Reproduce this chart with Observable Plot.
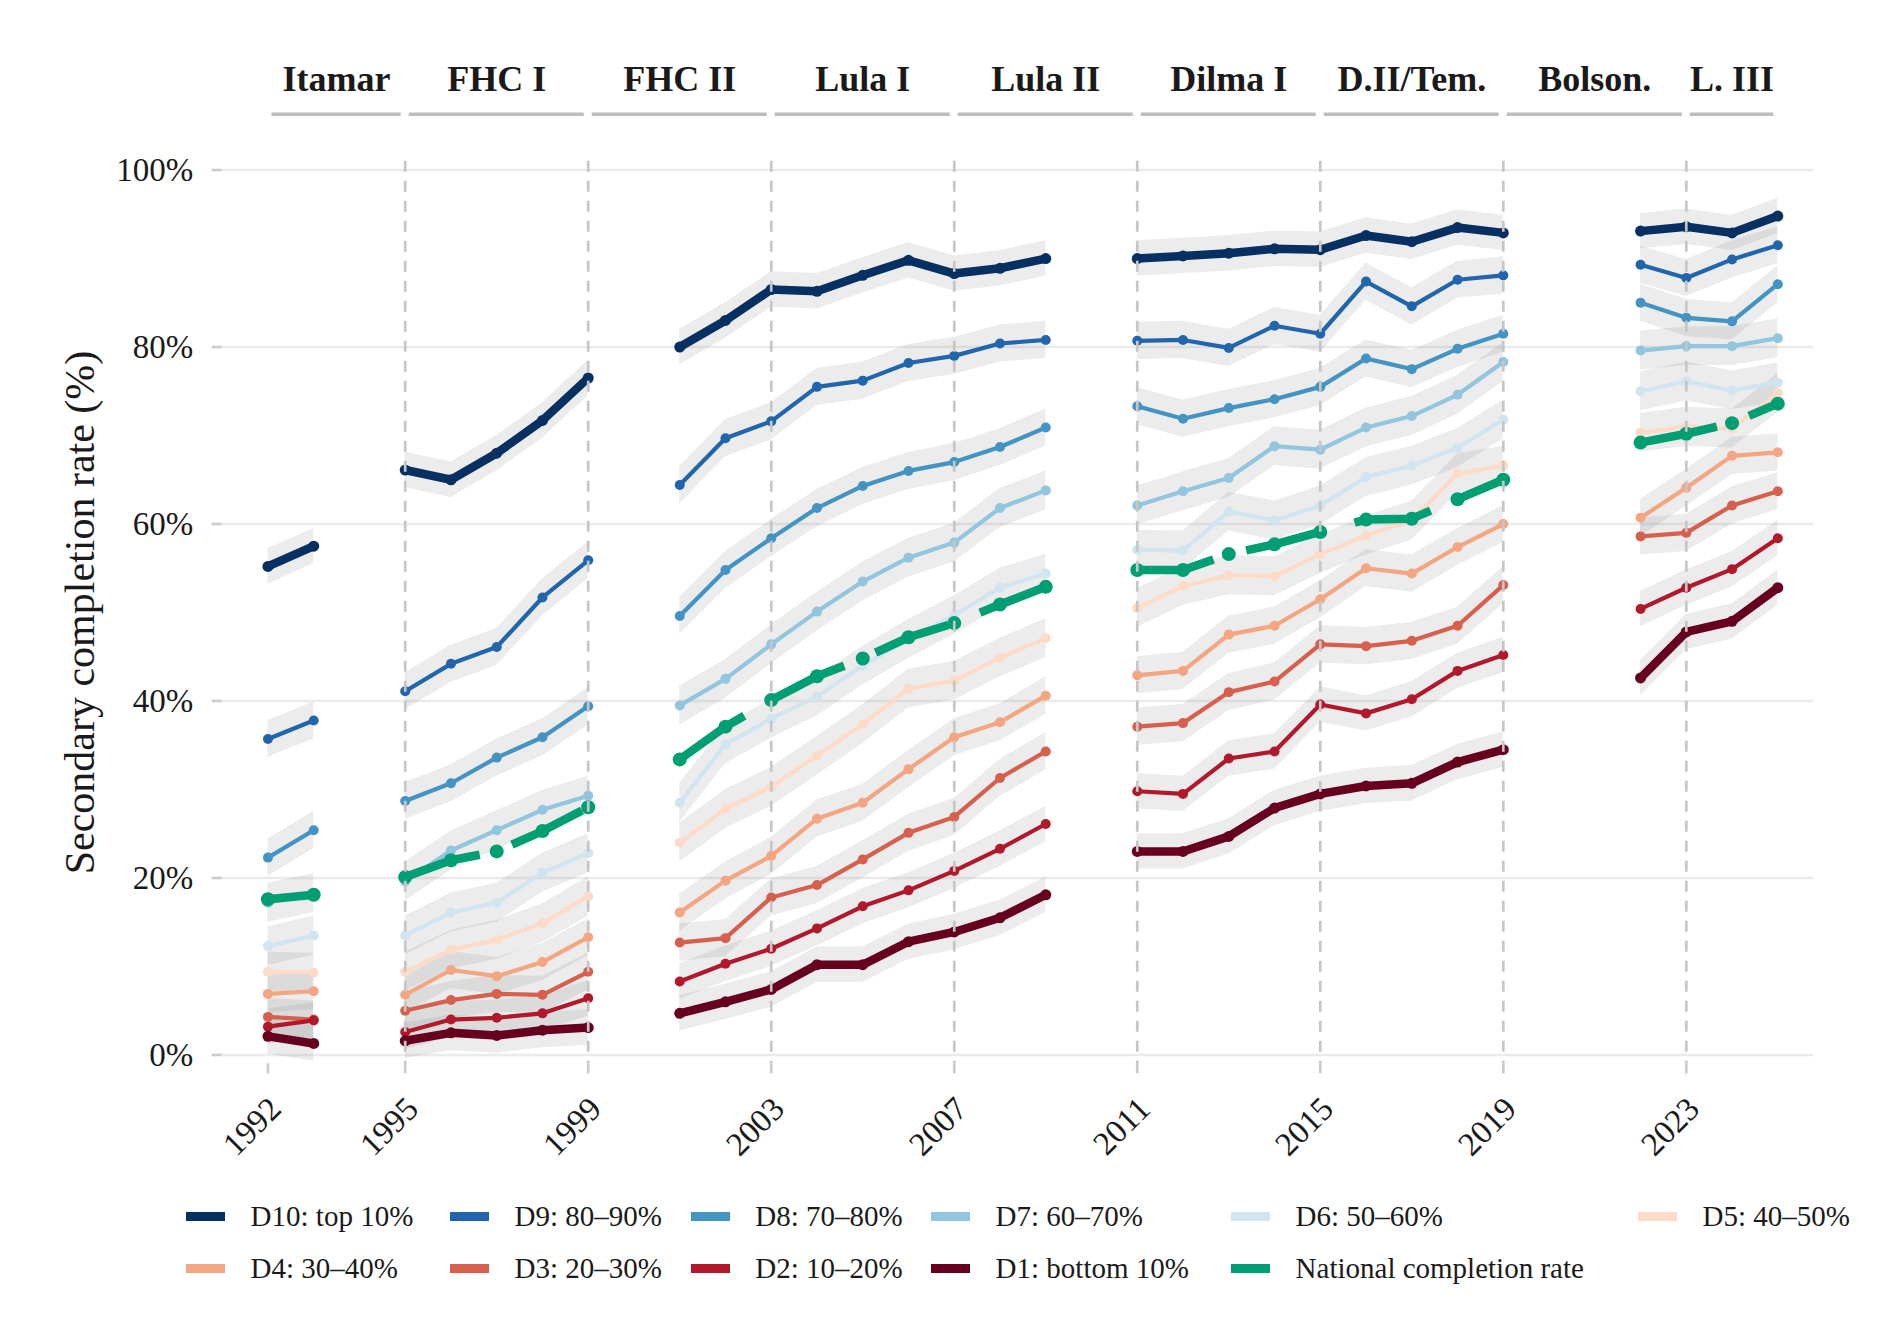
<!DOCTYPE html>
<html>
<head>
<meta charset="utf-8">
<script src="https://cdn.jsdelivr.net/npm/d3@7"></script>
<script src="https://cdn.jsdelivr.net/npm/@observablehq/plot@0.6"></script>
<style>
  html, body { margin: 0; padding: 0; background: #ffffff; }
  body { font-family: "Liberation Serif", "DejaVu Serif", serif; color: #1a1a1a; }
  #chart { width: 1880px; }
  #legend { display: grid; grid-template-columns: 264px 240.6px 240.4px 300px 407px 220px; margin-left: 186px; padding-top: 15px; }
  .item { display: flex; align-items: center; height: 52px; white-space: nowrap; }
  .key { width: 39px; height: 9px; margin-right: 25.6px; flex: none; }
  .lab { font-size: 29px; line-height: 1; }
</style>
</head>
<body>
<div id="chart"></div>
<script>
// ---------------- data ----------------
const years = [1992, 1993, 1994, 1995, 1996, 1997, 1998, 1999, 2000, 2001, 2002, 2003, 2004, 2005, 2006, 2007, 2008, 2009, 2010, 2011, 2012, 2013, 2014, 2015, 2016, 2017, 2018, 2019, 2020, 2021, 2022, 2023, 2024, 2025];

const d10 = [55.2, 57.5, null, 66.1, 65.0, 68.0, 71.7, 76.5, null, 80.0, 83.0, 86.5, 86.3, 88.1, 89.8, 88.3, 88.9, 90.0, null, 90.0, 90.3, 90.6, 91.1, 91.0, 92.6, 91.9, 93.5, 92.9, null, null, 93.1, 93.6, 92.9, 94.8];
const d9  = [35.7, 37.8, null, 41.1, 44.2, 46.1, 51.7, 55.9, null, 64.4, 69.7, 71.6, 75.5, 76.2, 78.2, 79.0, 80.4, 80.8, null, 80.7, 80.8, 79.9, 82.4, 81.5, 87.4, 84.6, 87.6, 88.1, null, null, 89.3, 87.8, 89.9, 91.5];
const d8  = [22.3, 25.4, null, 28.7, 30.7, 33.6, 35.9, 39.4, null, 49.6, 54.8, 58.4, 61.8, 64.3, 66.0, 67.0, 68.7, 70.9, null, 73.3, 71.9, 73.1, 74.1, 75.5, 78.7, 77.5, 79.8, 81.5, null, null, 85.0, 83.3, 82.9, 87.1];
const d7  = [17.2, 18.3, null, 19.6, 23.1, 25.4, 27.7, 29.3, null, 39.5, 42.5, 46.4, 50.1, 53.5, 56.2, 57.9, 61.8, 63.8, null, 62.1, 63.7, 65.2, 68.8, 68.4, 70.9, 72.2, 74.6, 78.3, null, null, 79.6, 80.1, 80.1, 81.0];
const d6  = [12.3, 13.5, null, 13.5, 16.1, 17.2, 20.6, 22.8, null, 28.5, 35.1, 38.0, 40.5, 44.0, 47.0, 49.7, 52.8, 54.4, null, 57.1, 57.0, 61.4, 60.4, 62.1, 65.3, 66.6, 68.6, 71.8, null, null, 75.0, 76.1, 75.1, 76.0];
const d5  = [9.4, 9.3, null, 9.4, 11.9, 13.0, 14.9, 17.9, null, 24.0, 27.8, 30.3, 33.8, 37.4, 41.4, 42.3, 44.9, 47.1, null, 50.5, 53.0, 54.2, 54.1, 56.6, 58.7, 60.4, 65.7, 66.6, null, null, 70.3, 71.0, 70.8, 74.8];
const d4  = [6.9, 7.2, null, 6.8, 9.6, 8.9, 10.5, 13.3, null, 16.1, 19.7, 22.5, 26.7, 28.5, 32.3, 35.9, 37.6, 40.6, null, 42.9, 43.4, 47.5, 48.5, 51.5, 55.0, 54.4, 57.4, 60.0, null, null, 60.7, 64.1, 67.7, 68.1];
const d3  = [4.3, 4.0, null, 5.0, 6.2, 6.9, 6.8, 9.4, null, 12.7, 13.2, 17.8, 19.2, 22.1, 25.1, 26.9, 31.3, 34.3, null, 37.1, 37.5, 41.0, 42.2, 46.4, 46.2, 46.8, 48.5, 53.1, null, null, 58.6, 59.0, 62.1, 63.7];
const d2  = [3.2, 3.9, null, 2.6, 4.0, 4.2, 4.7, 6.4, null, 8.3, 10.3, 12.0, 14.3, 16.8, 18.6, 20.8, 23.3, 26.1, null, 29.8, 29.5, 33.5, 34.3, 39.6, 38.6, 40.2, 43.4, 45.2, null, null, 50.4, 52.8, 54.9, 58.4];
const d1  = [2.1, 1.3, null, 1.6, 2.5, 2.2, 2.8, 3.1, null, 4.7, 6.0, 7.4, 10.2, 10.2, 12.8, 13.9, 15.5, 18.1, null, 23.0, 23.0, 24.7, 27.9, 29.5, 30.4, 30.7, 33.1, 34.5, null, null, 42.6, 47.8, 49.0, 52.8];
const national = [17.6, 18.1, null, 20.1, 22.0, 23.0, 25.3, 28.0, null, 33.4, 37.1, 40.1, 42.8, 44.8, 47.2, 48.8, 50.9, 52.9, null, 54.8, 54.8, 56.6, 57.7, 59.1, 60.5, 60.6, 62.8, 65.0, null, null, 69.2, 70.2, 71.4, 73.6];

// estimated half-width of the grey confidence band, per series (percentage points)
const ciHalfWidths = [2.0, 2.1, 2.1, 2.2, 2.2, 2.2, 2.1, 2.1, 2.0, 2.0, 0];

const seriesKeys = ["D10", "D9", "D8", "D7", "D6", "D5", "D4", "D3", "D2", "D1", "National"];
const seriesLabels = ["D10: top 10%", "D9: 80–90%", "D8: 70–80%", "D7: 60–70%", "D6: 50–60%", "D5: 40–50%",
                      "D4: 30–40%", "D3: 20–30%", "D2: 10–20%", "D1: bottom 10%", "National completion rate"];
const seriesColors = ["#053061", "#2166ac", "#4393c3", "#92c5de", "#d1e5f0", "#fddbc7",
                      "#f4a582", "#d6604d", "#b2182b", "#67001f", "#009e73"];
const seriesValues = [d10, d9, d8, d7, d6, d5, d4, d3, d2, d1, national];

const termLabels = ["Itamar", "FHC I", "FHC II", "Lula I", "Lula II", "Dilma I", "D.II/Tem.", "Bolson.", "L. III"];
const termStarts = [1992, 1995, 1999, 2003, 2007, 2011, 2015, 2019, 2023];
const termEnds   = [1995, 1999, 2003, 2007, 2011, 2015, 2019, 2023, 2025];

const xTickYears = [1992, 1995, 1999, 2003, 2007, 2011, 2015, 2019, 2023];
const yTickValues = [0, 20, 40, 60, 80, 100];
const yTitle = "Secondary completion rate (%)";

// ---------------- tidy table built from the arrays ----------------
const rows = [];
seriesKeys.forEach((key, i) => {
  let seg = 0;
  seriesValues[i].forEach((v, j) => {
    if (v === null) { seg++; return; }
    rows.push({series: key, seg: key + "-" + seg, year: years[j], value: v,
               lo: v - ciHalfWidths[i], hi: v + ciHalfWidths[i]});
  });
});
const terms = termLabels.map((label, i) => ({label, start: termStarts[i], end: termEnds[i]}));
const boundaries = termStarts.slice(1);

// ---------------- styles ----------------
const thick = new Set(["D10", "D1"]);
const font = "Liberation Serif";
const textColor = "#1a1a1a";

const seriesMarks = seriesKeys.flatMap((key, i) => {
  const d = rows.filter(r => r.series === key);
  const isNat = key === "National";
  const w = isNat ? 8.5 : thick.has(key) ? 8.5 : 4.2;
  const r = isNat ? 7 : thick.has(key) ? 5.5 : 5;
  const lineOpts = {x: "year", y: "value", z: "seg", stroke: seriesColors[i], strokeWidth: w,
                    strokeLinecap: "butt", strokeLinejoin: "round"};
  if (isNat) lineOpts.strokeDasharray = "78,34";
  return [
    Plot.dot(d, {x: "year", y: "value", r, fill: seriesColors[i], stroke: "none"}),
    Plot.line(d, lineOpts)
  ];
});

const yTop = 101;

const chart = Plot.plot({
  width: 1880,
  height: 1175,
  marginLeft: 221.7,
  marginRight: 67,
  marginTop: 160.7,
  marginBottom: 111.7,
  style: {fontFamily: font, background: "#ffffff", color: textColor, overflow: "visible"},
  x: {domain: [1991, 2025.78]},
  y: {domain: [-1, yTop]},
  marks: [
    Plot.gridY(yTickValues, {stroke: "#ebebeb", strokeOpacity: 1, strokeWidth: 2.5}),
    Plot.axisY(yTickValues, {tickFormat: d => d + "%", tickSize: 10, tickPadding: 19, fontSize: 33,
                             stroke: "#cbcbcb", strokeWidth: 2.7, fill: textColor, label: null}),
    Plot.axisX(xTickYears, {tickFormat: () => "", tickSize: 10, stroke: "#cbcbcb", strokeWidth: 2.7, label: null}),
    Plot.text(xTickYears, {x: d => d, text: d => String(d), frameAnchor: "bottom", rotate: -45,
                           textAnchor: "end", lineAnchor: "middle", fontSize: 33, fill: textColor,
                           dx: 7.5, dy: 39.6}),
    Plot.text([yTitle], {text: d => d, frameAnchor: "left", rotate: -90, dx: -141.7,
                         textAnchor: "middle", fontSize: 42, fill: textColor}),
    Plot.areaY(rows.filter(r => r.series !== "National"),
               {x: "year", y1: "lo", y2: "hi", z: "seg", fill: "#7f7f7f", fillOpacity: 0.15}),
    ...seriesMarks,
    Plot.ruleX(boundaries, {stroke: "#c6c6c6", strokeWidth: 2.7, strokeDasharray: "11,9"}),
    Plot.ruleY(terms, {x1: "start", x2: "end", y: yTop, dy: -47, stroke: "#bdbdbd", strokeWidth: 3.5,
                       insetLeft: 4, insetRight: 4}),
    Plot.text(terms, {x: d => (d.start + d.end) / 2, text: "label", frameAnchor: "top", dy: -81.7,
                      fontSize: 36, fontWeight: "bold", fill: textColor, lineAnchor: "middle"})
  ]
});

const container = document.getElementById("chart");
container.appendChild(chart);

// ---------------- legend (below the SVG) ----------------
const legend = document.createElement("div");
legend.id = "legend";
seriesKeys.forEach((key, i) => {
  const item = document.createElement("div");
  item.className = "item";
  const k = document.createElement("span");
  k.className = "key";
  k.style.background = seriesColors[i];
  const l = document.createElement("span");
  l.className = "lab";
  l.textContent = seriesLabels[i];
  item.appendChild(k);
  item.appendChild(l);
  legend.appendChild(item);
});
container.appendChild(legend);
</script>
</body>
</html>
